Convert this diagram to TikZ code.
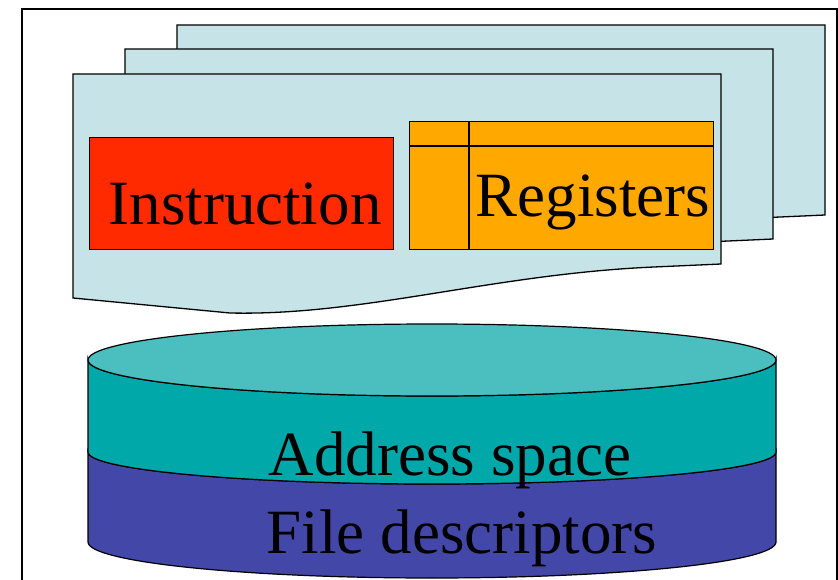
\documentclass[tikz,border=0pt]{standalone}
\usepackage{fontspec}
\setmainfont{Liberation Serif}
\definecolor{pagefill}{HTML}{C6E4E8}
\definecolor{instrred}{HTML}{FF2A00}
\definecolor{regorange}{HTML}{FFA800}
\definecolor{cyltop}{HTML}{4BBEBF}
\definecolor{cylside}{HTML}{00A8A9}
\definecolor{cylblue}{HTML}{4347A8}
\tikzset{
  pagesheet/.style={fill=pagefill, draw=black, line width=1.3pt, line join=miter},
  boxline/.style={draw=black, line width=1.2pt},
  bigtext/.style={inner sep=0pt, anchor=base, font=\fontsize{63}{63}\selectfont},
}
% one thread page: a "document" shape with a wavy bottom edge
\newcommand{\threadpage}[2]{%
  \path[pagesheet, shift={(#1,#2)}]
    (0,0) -- (648,0) -- (648,190) -- (581,193)
    .. controls (420,200) and (290,242) .. (157,239)
    -- (0,224) -- cycle;}
\begin{document}
\begin{tikzpicture}[x=1pt, y=-1pt]
  \useasboundingbox (0,0) rectangle (838,580);
  \begin{scope}
    \clip (0,0) rectangle (838,580);
    % outer frame
    \draw[line width=1.8pt] (22,600) -- (22,9) -- (837,9) -- (837,600);

    % stack of thread pages
    \threadpage{177}{25}
    \threadpage{125}{49}
    \threadpage{73}{74}

    % instruction pointer
    \node[boxline, fill=instrred, minimum width=304pt, minimum height=112pt,
          inner sep=0pt, anchor=north west] (instr) at (89,137) {};
    \node[bigtext] (instrtxt) at (245,225) {Instruction};

    % register file with its table lines
    \node[boxline, fill=regorange, minimum width=304pt, minimum height=128pt,
          inner sep=0pt, anchor=north west] (regs) at (409,121) {};
    \coordinate (rowL) at (409,146);
    \coordinate (rowR) at (713,146);
    \coordinate (colT) at (469,121);
    \coordinate (colB) at (469,249);
    \draw[line width=1.2pt] (rowL) -- (rowR);
    \draw[line width=1.2pt] (colT) -- (colB);
    \node[bigtext] (regstxt) at (593,217) {Registers};

    % shared process state: a two-layer cylinder
    \path[fill=cylblue, draw=black, line width=1.2pt]
      (88,452) -- (88,542) arc[start angle=180, end angle=0, x radius=344, y radius=36]
      -- (776,452) arc[start angle=0, end angle=180, x radius=344, y radius=32] -- cycle;
    \path[fill=cylside, draw=black, line width=1.2pt]
      (88,360) -- (88,452) arc[start angle=180, end angle=0, x radius=344, y radius=32]
      -- (776,360) arc[start angle=0, end angle=180, x radius=344, y radius=36] -- cycle;
    \path[fill=cyltop, draw=black, line width=1.2pt]
      (432,360) ellipse[x radius=344, y radius=36];

    \node[bigtext] (addrtxt) at (450,475) {Address space};
    \node[bigtext] (fdtxt) at (462,553) {File descriptors};
  \end{scope}
\end{tikzpicture}
\end{document}
